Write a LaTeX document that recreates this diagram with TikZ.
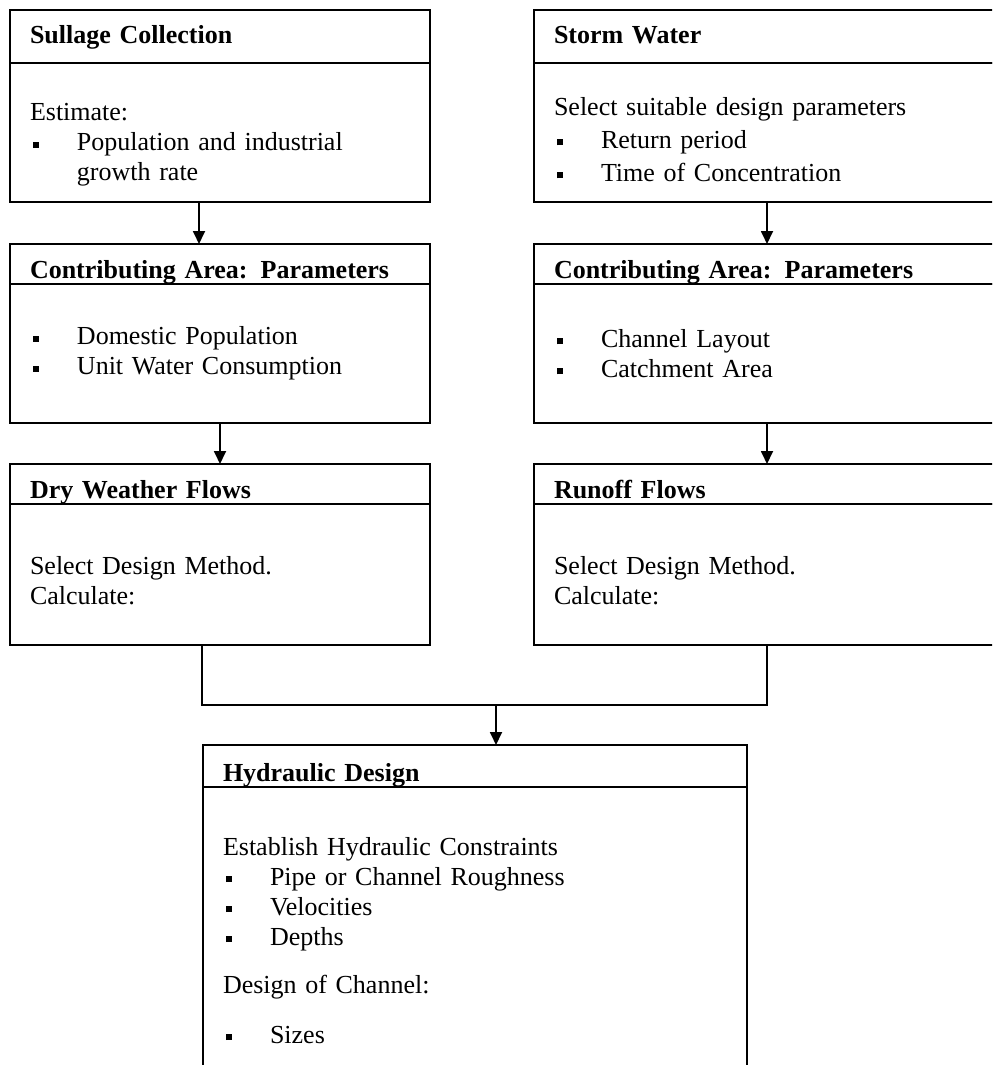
\documentclass[tikz,border=0pt]{standalone}
\usepackage{fontspec}
\setmainfont{Liberation Serif}
\usetikzlibrary{positioning,arrows.meta}
\newcommand{\sqbullet}{\makebox[23.5pt][l]{\hspace{1.5pt}\rule[1.5pt]{3pt}{3pt}}}

\begin{document}
\begin{tikzpicture}[x=0.5pt,y=-0.5pt,
    font=\fontsize{13pt}{15pt}\selectfont,
    line width=0.9pt,
    >={Triangle[length=6.5pt,width=6pt]},
    head/.style={draw, anchor=north west, outer sep=0pt, inner xsep=10pt, inner ysep=0pt,
        align=left, text height=17pt, text depth=3pt,
        font=\fontsize{13pt}{15pt}\selectfont\bfseries},
    panel/.style={draw, outer sep=0pt, inner xsep=10pt, align=left}]
    \useasboundingbox (0,0) rectangle (992,1065);
    \clip (0,0) rectangle (992,1065);
    % sullage side
    \node [head, text width=190pt, text depth=9.5pt] (sullage) at (10,10) {Sullage Collection};
    \node [panel, text width=190pt, minimum height=69.5pt, below=0pt of sullage] (sullagebody)
        {\rule{0pt}{21pt}Estimate:\\ \sqbullet Population and industrial\\ \hspace*{23.5pt}growth rate};
    \node [head, text width=190pt] (sullarea) at (10,244) {Contributing Area: Parameters};
    \node [panel, text width=190pt, minimum height=69.5pt, below=0pt of sullarea] (sullareabody)
        {\sqbullet Domestic Population\\ \sqbullet Unit Water Consumption};
    \node [head, text width=190pt] (dry) at (10,464) {Dry Weather Flows};
    \node [panel, text width=190pt, minimum height=70.5pt, below=0pt of dry] (drybody)
        {\rule{0pt}{15pt}Select Design Method.\\ Calculate:};
    % storm side
    \node [head, text width=213pt, text depth=9.5pt] (storm) at (534,10) {Storm Water};
    \node [panel, text width=213pt, minimum height=69.5pt, below=0pt of storm] (stormbody)
        {\rule{0pt}{16pt}Select suitable design parameters\\[1.5pt] \sqbullet Return period\\[1.5pt]
        \sqbullet Time of Concentration};
    \node [head, text width=213pt] (stormarea) at (534,244) {Contributing Area: Parameters};
    \node [panel, text width=213pt, minimum height=69.5pt, below=0pt of stormarea] (stormareabody)
        {\sqbullet Channel Layout\\ \sqbullet Catchment Area};
    \node [head, text width=213pt] (runoff) at (534,464) {Runoff Flows};
    \node [panel, text width=213pt, minimum height=70.5pt, below=0pt of runoff] (runoffbody)
        {\rule{0pt}{15pt}Select Design Method.\\ Calculate:};
    % design
    \node [head, text width=252pt, text height=18pt] (hydraulic) at (203,745) {Hydraulic Design};
    \node [panel, text width=252pt, inner ysep=25pt, below=0pt of hydraulic] (hydraulicbody)
        {Establish Hydraulic Constraints\\
        \sqbullet Pipe or Channel Roughness\\
        \sqbullet Velocities\\
        \sqbullet Depths\\[9pt]
        Design of Channel:\\[10pt]
        \sqbullet Sizes};
    \coordinate (merge) at (496,705);
    \draw [->] ([xshift=-10.5pt]sullagebody.south) -- ([xshift=-10.5pt]sullarea.north);
    \draw [->] (sullareabody) -- (dry);
    \draw [->] (stormbody) -- (stormarea);
    \draw [->] (stormareabody) -- (runoff);
    \draw ([xshift=-9pt]drybody.south) |- (merge) -| (runoffbody.south);
    \draw [->] (merge) -- (merge |- hydraulic.north);
\end{tikzpicture}
\end{document}
